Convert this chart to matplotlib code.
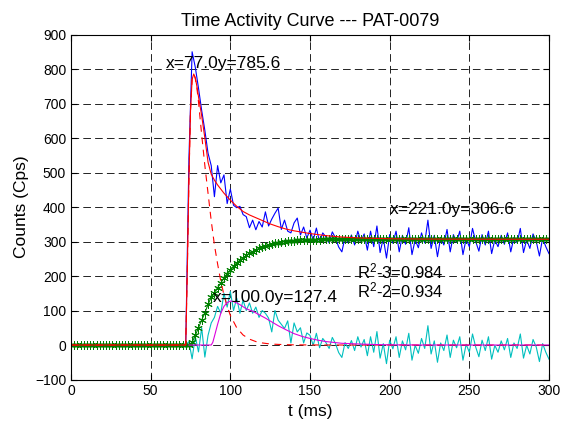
import matplotlib
matplotlib.use("Agg")
import matplotlib.pyplot as plt

plt.rcParams["font.family"] = ["Liberation Sans", "DejaVu Sans"]
plt.rcParams["mathtext.fontset"] = "custom"
plt.rcParams["mathtext.rm"] = "Liberation Sans"
plt.rcParams["mathtext.it"] = "Liberation Sans:italic"
plt.rcParams["lines.scale_dashes"] = False

# sample times of the measured curves (ms)
t = list(range(0, 301, 2))

# measured total curve (blue)
counts = [0.0] * 37 + [
    540, 850, 805, 745, 680, 622, 556, 520, 430, 520,
    470, 493, 410, 452, 405, 398, 402, 378, 372, 340,
    362, 334, 358, 342, 386, 345, 365, 382, 397, 335,
    362, 330, 325, 354, 368, 319, 342, 310,
    333, 304, 339, 298, 325, 313, 296, 328, 310, 284,
    270, 313, 296, 319, 290, 330, 300, 322, 275, 330,
    285, 345, 268, 310, 252, 320, 295, 330, 270, 318,
    292, 340, 262, 305, 282, 325, 296, 362, 280, 318,
    256, 312, 290, 335, 270, 320, 298, 330, 262, 308,
    285, 338, 300, 272, 320, 290, 330, 265, 305, 285,
    318, 292, 325, 270, 312, 296, 338, 268, 305, 280,
    322, 300, 258, 310, 285, 265,
]

# residual after first pass and plateau (cyan)
residual = [0.0] * 37 + [
    10, -40, 25, -20, 50, -35, 28, 64, 80, 112,
    92, 150, 110, 155, 100, 136, 92, 130, 100, 122,
    92, 110, 80, 100, 92, 78, 38, 100, 72, 60,
    48, 70, 6, 64, 38, 50, 6, 35,
    28, -1, 34, -8, 19, 7, -10, 22, 4, -22,
    -36, 7, -10, 13, -16, 24, -6, 16, -31, 24,
    -21, 39, -38, 4, -54, 14, -11, 24, -36, 12,
    -14, 34, -44, -1, -24, 19, -10, 56, -26, 12,
    -50, 6, -16, 29, -36, 14, -8, 24, -44, 2,
    -21, 32, -6, -34, 14, -16, 24, -41, -1, -21,
    12, -14, 19, -36, 6, -10, 32, -38, -1, -26,
    16, -6, -48, 4, -21, -41,
]

# plateau (recirculation) fit (green stars)
plateau = [0.0] * 38 + [
    8, 28, 50, 72, 93, 118, 138, 152, 166, 180,
    194, 207, 218, 229, 238, 246, 253, 260, 266, 271,
    276, 280, 284, 287, 290, 292, 294.5, 296.5, 298, 299.5,
    300.7, 301.7, 302.5, 303.2, 303.8, 304.3, 304.7, 305.0, 305.3, 305.5,
    305.7, 305.9, 306.0,
    306.1, 306.2, 306.3, 306.4, 306.5,
] + [306.6] * 65

# total fit (red) and first pass gamma fit (red dashed)
t_fit = [0, 72, 73, 74, 75, 76, 77, 78, 79, 80, 82, 84, 86, 88, 90, 92, 94,
         96, 98, 100, 104, 108, 112, 116, 120, 125, 130, 135, 140, 150, 160,
         170, 180, 200, 220, 250, 300]
total_fit = [0, 0, 220, 480, 680, 770, 785.6, 775, 750, 720, 665, 600, 530,
             495, 478, 464, 452, 440, 430, 420, 402, 387, 377, 369, 361, 351,
             343, 336, 331, 323, 317, 313, 310.5, 308, 307.2, 306.8, 306.6]
first_pass = [0, 0, 220, 480, 680, 770, 785.6, 772, 745, 705, 610, 520, 440,
              360, 290, 235, 185, 145, 112, 86, 50, 29, 17, 10, 6, 3, 1.8, 1,
              0.5, 0.2, 0, 0, 0, 0, 0, 0, 0]

# second pass gamma fit (magenta)
t_mag = [74, 88, 89, 90, 92, 94, 96, 98, 100, 102, 104, 106, 108, 110, 114,
         118, 122, 126, 130, 135, 140, 145, 150, 155, 160, 170, 180, 190, 200,
         220, 300]
second_pass = [0, 0, 8, 25, 60, 92, 112, 123, 127.4, 126, 122, 117, 111, 105,
               98, 88, 78, 67, 56, 44, 33, 25, 19, 14, 10, 5, 3, 1.5, 0.5, 0, 0]

fig = plt.figure(figsize=(5.61, 4.23), dpi=100)
ax = fig.add_axes([0.1266, 0.1028, 0.852, 0.8156])

ax.plot(t, counts, color="#0000ff", lw=0.8)
ax.plot(t, residual, color="#00bfbf", lw=0.8)
ax.plot(t, plateau, color="#008000", lw=0.8, marker=(6, 2, 0),
        markersize=6, markeredgewidth=0.7)
ax.plot(t_fit, total_fit, color="#ff0000", lw=0.8)
ax.plot(t_fit, first_pass, color="#ff0000", lw=0.8, dashes=(5, 4))
ax.plot(t_mag, second_pass, color="#dd00dd", lw=0.8)

ax.text(59.5, 817, "x=77.0y=785.6", fontsize=12.5, va="center")
ax.text(200, 394, "x=221.0y=306.6", fontsize=12.5, va="center")
ax.text(89, 139, "x=100.0y=127.4", fontsize=12.5, va="center")
ax.text(179.5, 212, "R$^2$-3=0.984", fontsize=12, va="center")
ax.text(179.5, 158, "R$^2$-2=0.934", fontsize=12, va="center")

ax.set_xlim(0, 300)
ax.set_ylim(-100, 900)
ax.set_xticks(range(0, 301, 50))
ax.set_yticks(range(-100, 901, 100))
ax.tick_params(direction="in", top=True, right=True, labelsize=10, length=4)
ax.grid(True, color="#222222", lw=0.7, dashes=(5.5, 3))
for s in ax.spines.values():
    s.set_linewidth(0.8)

ax.set_title("Time Activity Curve --- PAT-0079", fontsize=13)
ax.set_xlabel("t (ms)", fontsize=12.5)
ax.set_ylabel("Counts (Cps)", fontsize=12.5)

fig.savefig("out.png", dpi=100)
